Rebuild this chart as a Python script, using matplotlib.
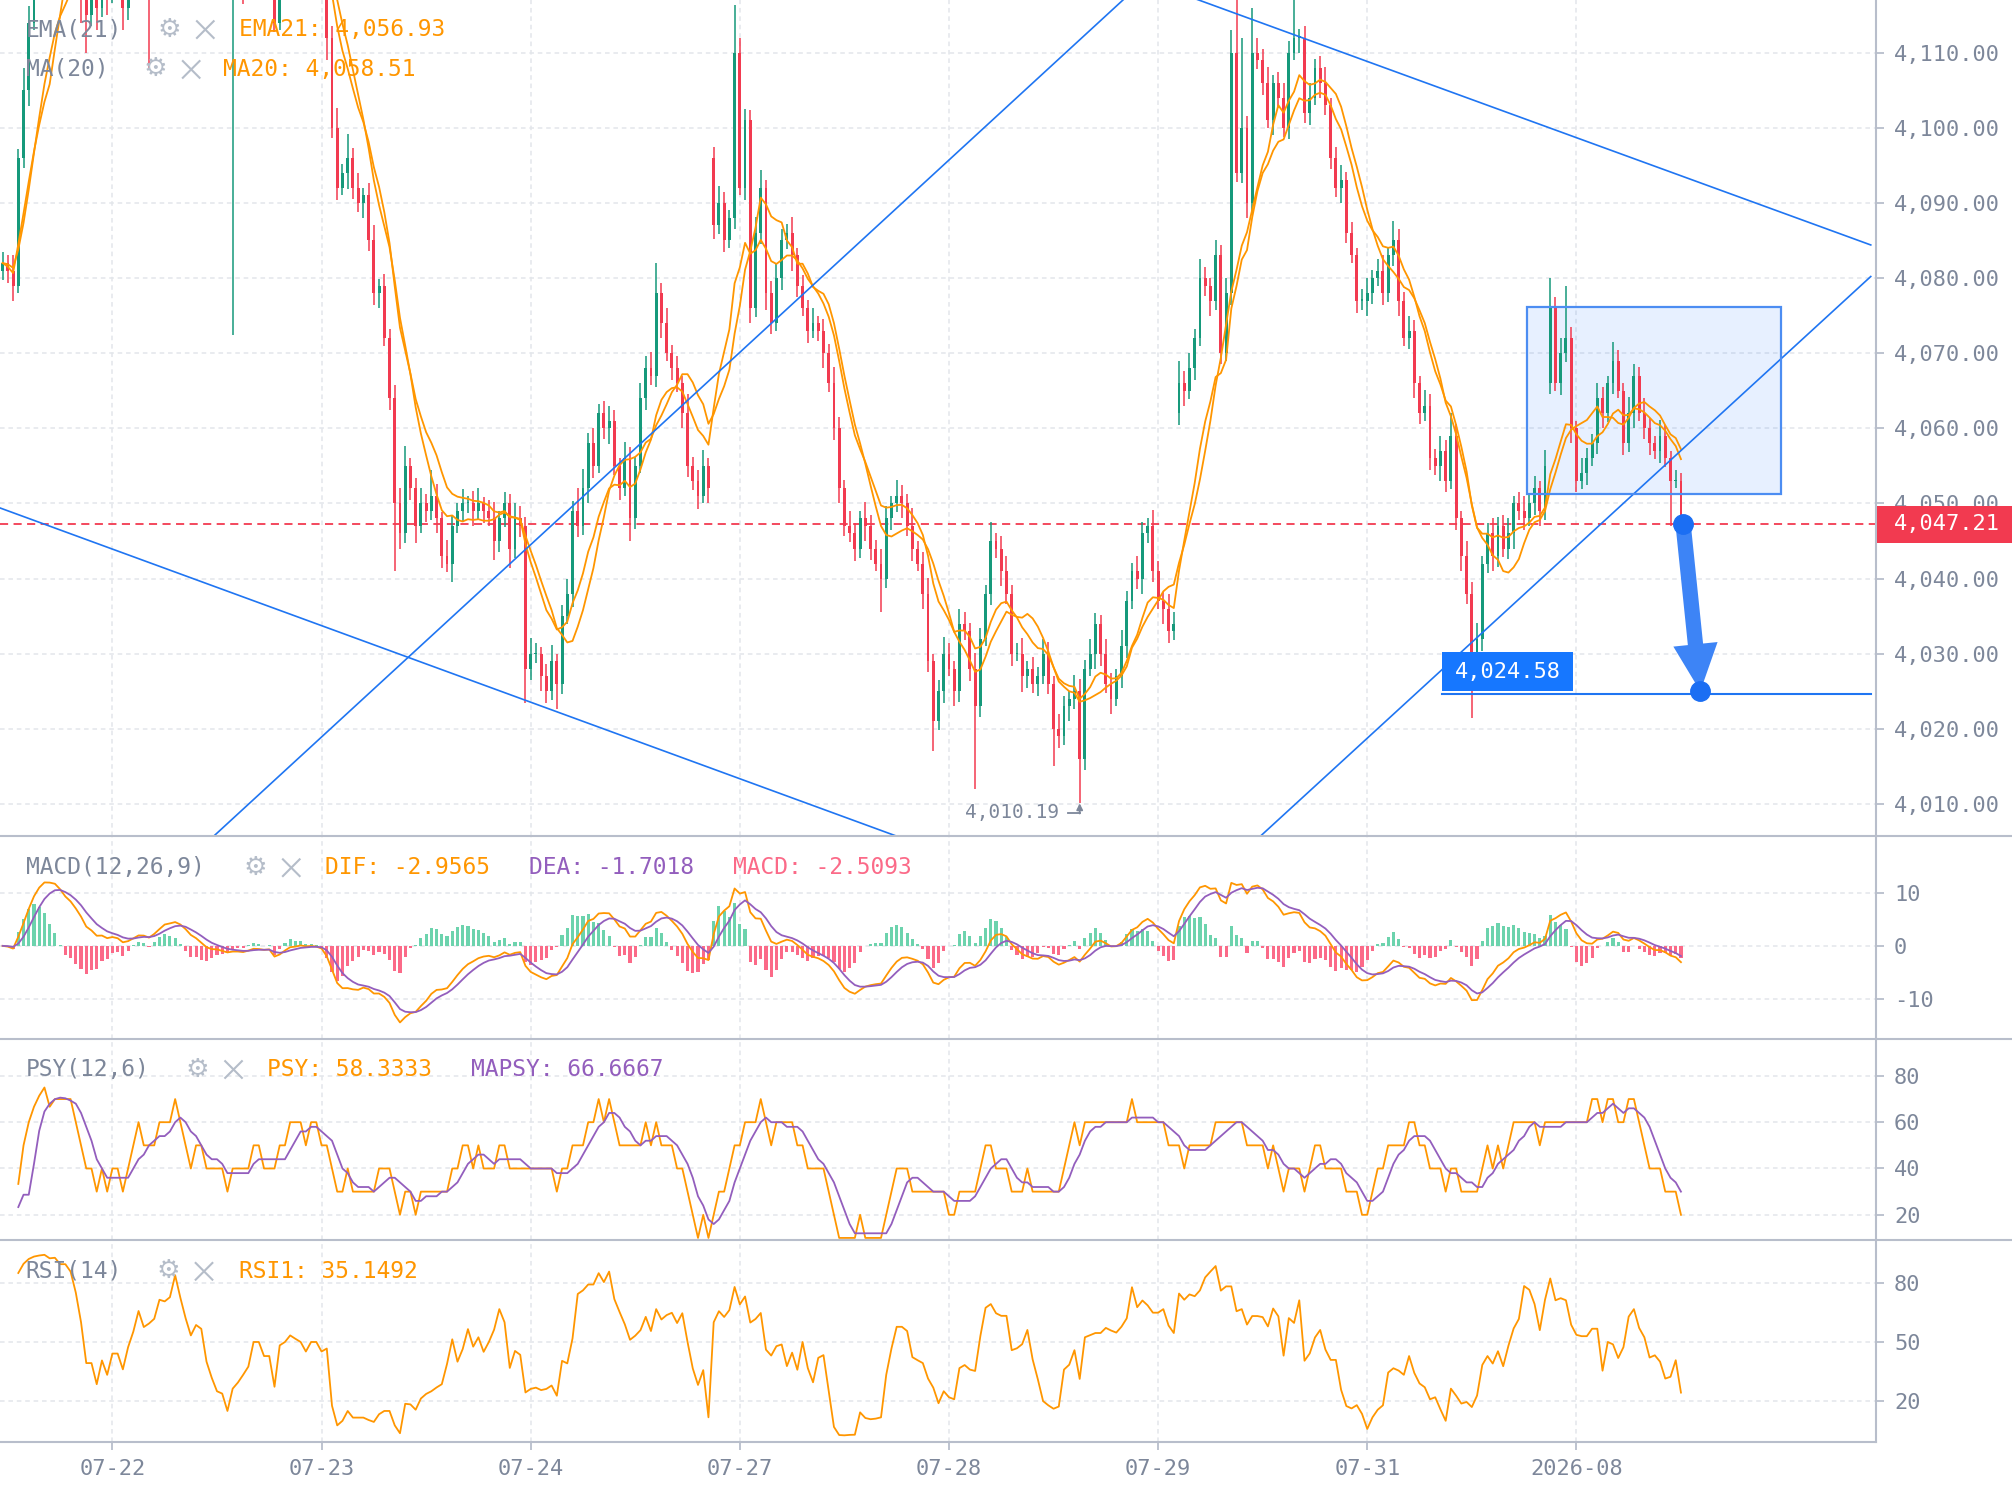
import numpy as np
import matplotlib.pyplot as plt
from matplotlib.lines import Line2D
from matplotlib.patches import Rectangle, FancyArrowPatch
from matplotlib.transforms import blended_transform_factory

plt.rcParams['font.family'] = ['DejaVu Sans Mono', 'DejaVu Sans']

# 30-min bars (anything above ~4117 runs off the top)
closes = [
    4082, 4081, 4079, 4096, 4105, 4114, 4121, 4125, 4128, 4127,
    4129, 4126, 4124, 4126, 4123, 4120, 4115, 4119, 4116, 4121,
    4118, 4122, 4120, 4116, 4121, 4124, 4126, 4124, 4122, 4129,
    4133, 4136, 4135, 4137, 4134, 4131, 4128, 4129, 4126, 4124,
    4125, 4126, 4124, 4123, 4125, 4124, 4123, 4125, 4126, 4124,
    4123, 4124, 4114, 4122, 4125, 4126, 4124, 4125, 4123, 4124,
    4123, 4121, 4112, 4100, 4092, 4094, 4096, 4092, 4090, 4091,
    4085, 4078, 4079, 4072, 4064, 4050, 4046, 4055, 4052, 4047,
    4050, 4049, 4051, 4048, 4043, 4042, 4047, 4049, 4050, 4050,
    4049, 4050, 4049, 4048, 4045, 4048, 4050, 4044, 4048, 4047,
    4028, 4030, 4030, 4027, 4025, 4029, 4026, 4035, 4038, 4049,
    4047, 4052, 4058, 4055, 4062, 4060, 4061, 4055, 4052, 4056,
    4048, 4055, 4064, 4068, 4067, 4078, 4074, 4070, 4068, 4066,
    4062, 4055, 4053, 4051, 4055, 4052, 4087, 4090, 4085, 4088,
    4110, 4092, 4101, 4076, 4086, 4092, 4078, 4074, 4080, 4085,
    4086, 4083, 4079, 4076, 4073, 4074, 4073, 4070, 4066, 4060,
    4052, 4047, 4046, 4044, 4048, 4047, 4044, 4042, 4040, 4048,
    4050, 4051, 4050, 4047, 4044, 4042, 4038, 4029, 4021, 4025,
    4030, 4028, 4025, 4034, 4033, 4028, 4023, 4032, 4038, 4045,
    4044, 4041, 4038, 4030, 4030, 4027, 4028, 4026, 4027, 4030,
    4026, 4020, 4019, 4023, 4024, 4025, 4016, 4028, 4030, 4034,
    4030, 4026, 4024, 4027, 4031, 4037, 4041, 4040, 4046, 4047,
    4041, 4037, 4036, 4033, 4034, 4066, 4065, 4068, 4072, 4080,
    4079, 4077, 4083, 4070, 4078, 4110, 4094, 4100, 4090, 4110,
    4109, 4106, 4101, 4106, 4104, 4100, 4110, 4112, 4112, 4102,
    4104, 4108, 4106, 4103, 4096, 4092, 4093, 4086, 4083, 4077,
    4077, 4078, 4080, 4081, 4078, 4083, 4085, 4077, 4072, 4073,
    4066, 4062, 4063, 4056, 4055, 4057, 4053, 4059, 4048, 4043,
    4038, 4027, 4032, 4042, 4046, 4043, 4047, 4044, 4046, 4050,
    4049, 4048, 4050, 4052, 4049, 4055, 4076, 4066, 4070, 4072,
    4060, 4053, 4054, 4056, 4058, 4064, 4062, 4066, 4069, 4065,
    4058, 4062, 4067, 4062, 4060, 4058, 4057, 4059, 4056, 4053,
    4053, 4047.21,
]

# upper / lower shadow length beyond the body
wick_up = [
    1.5, 1.0, 2.0, 1.2, 3.0, 2.2, 1.0, 2.5, 1.4, 2.0,
    1.1, 1.6, 2.3, 0.8, 1.5, 1.2, 2.1, 1.4, 0.9, 2.2,
    1.3, 1.0, 2.4, 1.6, 0.8, 2.0, 1.7, 1.1, 2.3, 1.0,
    1.4, 2.2, 0.9, 1.5, 2.1, 1.0, 1.8, 1.2, 2.0, 1.6,
    1.0, 2.3, 1.4, 0.8, 2.0, 1.5, 1.1, 2.4, 1.0, 1.7,
    2.2, 1.0, 1.6, 2.5, 1.2, 1.4, 0.9, 2.0, 1.5, 1.1,
    2.1, 1.4, 1.0, 1.5, 2.6, 1.2, 3.2, 1.3, 2.0, 1.0,
    1.6, 2.1, 0.9, 1.5, 1.2, 1.8, 2.0, 2.7, 1.1, 1.4,
    2.0, 1.2, 3.4, 1.6, 0.8, 2.1, 1.5, 1.1, 1.9, 1.0,
    1.6, 2.0, 0.9, 1.4, 2.2, 1.0, 1.5, 1.3, 2.1, 1.6,
    1.2, 2.1, 1.4, 0.9, 1.6, 2.2, 1.0, 1.5, 2.0, 1.3,
    3.0, 2.6, 1.4, 2.1, 1.2, 1.6, 2.0, 1.4, 1.1, 2.2,
    1.5, 1.2, 2.0, 1.6, 2.1, 4.0, 1.4, 2.0, 1.1, 1.6,
    1.0, 2.5, 1.2, 1.5, 2.1, 1.0, 1.4, 2.2, 1.5, 1.0,
    6.3, 2.0, 1.5, 1.3, 2.1, 2.4, 1.0, 1.6, 2.0, 1.5,
    1.2, 2.1, 1.0, 1.4, 1.1, 2.0, 1.0, 1.6, 1.2, 2.1,
    1.5, 1.1, 2.0, 1.4, 1.0, 2.2, 1.5, 1.2, 2.0, 1.6,
    1.0, 2.1, 1.4, 1.2, 2.4, 1.0, 1.6, 2.1, 1.0, 1.5,
    2.2, 1.4, 1.0, 2.0, 1.6, 1.1, 2.1, 1.4, 1.2, 2.5,
    1.0, 1.6, 2.0, 1.2, 1.4, 2.1, 1.0, 1.5, 1.2, 2.0,
    1.5, 1.1, 2.0, 1.4, 1.0, 2.2, 1.6, 1.1, 2.0, 1.4,
    1.2, 2.0, 1.5, 1.0, 2.1, 1.4, 1.1, 2.0, 1.5, 1.0,
    2.1, 1.4, 1.2, 2.0, 1.5, 3.0, 1.6, 2.0, 1.2, 2.5,
    1.5, 1.0, 2.1, 1.4, 2.0, 3.0, 7.5, 12.0, 1.5, 6.0,
    2.0, 1.5, 2.1, 1.0, 1.4, 2.0, 1.5, 6.0, 1.1, 1.6,
    2.0, 1.2, 1.5, 2.1, 1.0, 1.4, 2.0, 1.1, 1.5, 1.0,
    1.6, 2.0, 1.1, 1.5, 2.1, 1.0, 2.6, 1.5, 1.2, 2.0,
    1.4, 1.0, 2.1, 1.5, 1.2, 2.0, 1.4, 3.0, 1.6, 1.0,
    2.0, 1.5, 2.1, 1.0, 1.4, 2.0, 1.2, 1.5, 2.1, 1.0,
    1.5, 2.0, 1.1, 1.6, 1.0, 2.1, 4.0, 1.5, 2.0, 7.0,
    1.5, 1.0, 2.1, 1.4, 1.2, 2.0, 1.5, 1.0, 2.5, 1.4,
    1.0, 2.1, 1.5, 1.2, 2.0, 1.4, 1.0, 2.1, 1.5, 1.0,
    1.5, 1.0,
]
wick_dn = [
    1.2, 1.6, 2.0, 1.0, 1.4, 2.1, 1.0, 1.5, 2.2, 1.1,
    1.6, 1.0, 2.0, 1.4, 1.2, 6.0, 5.0, 1.5, 3.0, 1.2,
    3.0, 1.4, 1.1, 3.0, 1.6, 1.0, 2.0, 1.5, 14.0, 1.5,
    2.0, 1.1, 1.6, 1.2, 2.1, 1.0, 1.5, 1.8, 1.2, 2.0,
    1.4, 1.0, 2.2, 1.5, 50.6, 1.2, 6.5, 1.6, 1.0, 2.0,
    1.3, 1.5, 1.3, 1.0, 1.2, 1.0, 2.0, 1.4, 1.1, 1.6,
    1.0, 2.1, 3.0, 1.4, 1.6, 1.0, 2.2, 1.5, 1.2, 2.0,
    1.4, 1.6, 2.0, 1.1, 1.5, 9.0, 2.0, 1.2, 1.6, 2.2,
    1.0, 1.5, 1.2, 2.0, 1.6, 1.1, 2.4, 1.0, 1.5, 1.3,
    2.0, 1.2, 1.6, 1.0, 2.5, 1.4, 1.1, 2.6, 1.2, 1.5,
    4.6, 1.5, 1.2, 2.0, 1.6, 1.2, 3.3, 1.4, 1.0, 1.8,
    1.5, 1.2, 2.0, 1.6, 1.0, 1.4, 2.1, 1.2, 1.6, 1.0,
    3.0, 1.4, 1.0, 1.6, 1.2, 1.5, 2.0, 1.1, 1.6, 1.2,
    2.0, 1.5, 1.2, 1.8, 1.0, 2.0, 1.8, 1.2, 1.5, 1.0,
    1.5, 1.0, 1.6, 2.0, 1.2, 1.5, 2.2, 1.4, 1.0, 1.6,
    1.2, 2.0, 1.5, 1.1, 1.6, 1.0, 1.4, 2.0, 1.2, 1.6,
    2.0, 1.4, 1.1, 1.6, 1.2, 2.0, 1.5, 1.0, 4.5, 1.2,
    1.5, 1.1, 2.0, 1.4, 1.6, 1.0, 2.1, 1.4, 4.0, 1.2,
    1.5, 1.0, 2.0, 1.4, 1.2, 1.6, 11.0, 1.4, 1.0, 1.5,
    1.2, 2.0, 1.4, 1.6, 1.0, 2.1, 1.5, 1.2, 1.6, 1.0,
    1.4, 5.0, 1.6, 1.2, 2.0, 1.4, 5.81, 1.5, 1.0, 2.0,
    1.6, 1.2, 2.0, 1.0, 1.5, 1.6, 1.1, 1.4, 2.0, 1.2,
    1.5, 1.0, 2.0, 1.6, 1.2, 1.5, 2.0, 1.1, 1.6, 1.0,
    1.4, 2.0, 1.2, 1.5, 1.0, 1.6, 1.2, 1.4, 2.0, 1.5,
    1.2, 1.6, 1.0, 2.0, 1.4, 1.2, 1.5, 1.0, 2.1, 1.4,
    1.6, 1.0, 2.0, 1.3, 1.5, 1.2, 2.0, 1.4, 1.0, 1.6,
    1.2, 2.0, 1.5, 1.0, 1.6, 1.2, 1.4, 2.0, 1.1, 1.5,
    2.0, 1.4, 1.0, 1.6, 1.2, 2.0, 1.5, 1.1, 1.6, 2.0,
    1.4, 5.5, 1.0, 1.6, 1.2, 2.0, 1.5, 1.1, 1.4, 2.0,
    1.2, 1.6, 1.0, 1.5, 2.0, 1.2, 1.4, 1.0, 1.6, 1.2,
    2.0, 1.5, 1.1, 1.6, 1.0, 1.4, 2.0, 1.2, 1.5, 1.0,
    1.6, 1.2, 2.0, 1.0, 1.4, 1.5, 1.1, 1.6, 1.2, 6.0,
    1.0, 0.5,
]
# session gaps: bars whose open is not the previous close
gap_opens = {136: 4096, 225: 4062, 296: 4066}

day_pos = [21, 61, 101, 141, 181, 221, 261, 301]
day_labels = ['07-22', '07-23', '07-24', '07-27', '07-28', '07-29', '07-31', '2026-08']
price_ticks = [4010, 4020, 4030, 4040, 4050, 4060, 4070, 4080, 4090, 4100, 4110]

last_price = 4047.21
target_price = 4024.58

# readouts shown in the indicator headers
ema_value, ma_value = 4056.93, 4058.51
dif_value, dea_value, macd_value = -2.9565, -1.7018, -2.5093
psy_value, mapsy_value = 58.3333, 66.6667
rsi_value = 35.1492

# drawing tools, (bar index, price)
trend_lines = [
    ((-0.5, 4049.4), (175.0, 4004.7)),
    ((38.0, 4004.2), (216.0, 4118.1)),
    ((226.0, 4117.7), (357.3, 4084.4)),
    ((238.5, 4004.4), (357.3, 4080.2)),
]
box_x, box_y = (291.5, 340.1), (4051.3, 4076.1)
arrow_from, arrow_to = (321.4, 4047.3), (324.7, 4025.0)

UP, DOWN = '#16997B', '#F23A50'
HIST_UP, HIST_DN = '#6CD3AD', '#FB6A88'
ORANGE, PURPLE = '#FF9600', '#935EBD'
BLUE = '#1F75F2'
AXIS = '#B8BECB'
GRID = '#E3E6EB'
TEXT = '#7D879A'
ICON = '#B5BDC9'

c = np.array(closes, dtype=float)
o = np.r_[c[0] - 1.0, c[:-1]]
for k, v in gap_opens.items():
    o[k] = v
highs = np.maximum(o, c) + np.array(wick_up)
lows = np.minimum(o, c) - np.array(wick_dn)
x = np.arange(len(c))


def ema(v, n):
    a = 2.0 / (n + 1)
    out = np.empty_like(v)
    out[0] = v[0]
    for k in range(1, len(v)):
        out[k] = a * v[k] + (1 - a) * out[k - 1]
    return out


def sma(v, n):
    return np.array([v[max(0, k - n + 1):k + 1].mean() for k in range(len(v))])


# periods shortened: each bar here stands for two 15-min bars
ema_line = ema(c, 11)
ma_line = sma(c, 10)
dif = ema(c, 6) - ema(c, 13)
dea = ema(dif, 5)
hist = 2 * (dif - dea)

chg = np.r_[0.0, np.diff(c)]
psy = np.array([100.0 * (chg[max(1, k - 9):k + 1] > 0).mean() if k > 0 else 60.0
                for k in range(len(c))])
mapsy = sma(psy, 5)
rsi = []
for k in range(len(c)):
    w = chg[max(1, k - 9):k + 1]
    tot = np.abs(w).sum()
    rsi.append(100.0 * w[w > 0].sum() / tot if tot > 0 else 50.0)
rsi = np.array(rsi)
start = 3  # the first bars have too little history for PSY / RSI

W, H = 1568.0, 1156.0
fig = plt.figure(figsize=(20.12, 14.86), dpi=100)


def panel(top, bottom):
    return fig.add_axes([0, 1 - bottom / H, 1462 / W, (bottom - top) / H])


ax = panel(0, 650)
ax_macd = panel(650, 808)
ax_psy = panel(808, 965)
ax_rsi = panel(965, 1122)


def style(a, ylim, ticks, fmt):
    a.set_xlim(-0.5, 358.3)
    a.set_ylim(*ylim)
    for s in ('top', 'left', 'bottom'):
        a.spines[s].set_visible(False)
    a.spines['right'].set_color(AXIS)
    a.spines['right'].set_linewidth(1.5)
    a.yaxis.tick_right()
    a.set_yticks(ticks)
    a.set_yticklabels([fmt(t) for t in ticks])
    a.tick_params(axis='y', color=AXIS, labelcolor=TEXT, length=6, width=1.3,
                  pad=7, labelsize=15.8)
    a.set_xticks(day_pos)
    a.tick_params(axis='x', bottom=False, labelbottom=False)
    a.grid(True, color=GRID, linestyle=(0, (3, 2.5)), lw=1.1)
    a.set_axisbelow(True)


style(ax, (4005.8, 4117.0), price_ticks, lambda t: f'{t:,.2f}')
style(ax_macd, (-17.5, 20.8), [-10, 0, 10], lambda t: f'{t}')
style(ax_psy, (8.9, 96.1), [20, 40, 60, 80], lambda t: f'{t}')
style(ax_rsi, (-0.9, 101.5), [20, 50, 80], lambda t: f'{t}')

ax_rsi.spines['bottom'].set_visible(True)
ax_rsi.spines['bottom'].set_color(AXIS)
ax_rsi.spines['bottom'].set_linewidth(1.5)
ax_rsi.set_xticklabels(day_labels)
ax_rsi.tick_params(axis='x', bottom=True, labelbottom=True, color=AXIS, labelcolor=TEXT,
                   length=6, width=1.3, pad=6, labelsize=15.8)

# candles
col = np.where(c >= o, UP, DOWN)
ax.vlines(x, lows, highs, colors=col, lw=1.1, zorder=3)
ax.bar(x, np.maximum(np.abs(c - o), 0.15), bottom=np.minimum(o, c), width=0.55,
       color=col, lw=0, zorder=3)
ax.plot(x, ema_line, color=ORANGE, lw=1.3, zorder=4)
ax.plot(x, ma_line, color=ORANGE, lw=1.3, zorder=4)

ax.axhline(last_price, color=DOWN, lw=1.3, ls=(0, (4.5, 3)), zorder=2)

for (x0, y0), (x1, y1) in trend_lines:
    ax.plot([x0, x1], [y0, y1], color=BLUE, lw=1.2, zorder=5)

ax.add_patch(Rectangle((box_x[0], box_y[0]), box_x[1] - box_x[0], box_y[1] - box_y[0],
                       facecolor='#2979FF', alpha=0.11, lw=0, zorder=1))
ax.add_patch(Rectangle((box_x[0], box_y[0]), box_x[1] - box_x[0], box_y[1] - box_y[0],
                       fill=False, edgecolor='#4C8DF2', lw=1.6, zorder=5))

# target level and its tag
ax.plot([275.3, 357.3], [target_price, target_price], color=BLUE, lw=1.5, zorder=5)
ax.add_patch(Rectangle((275.3, target_price + 0.4), 25.1, 5.3, facecolor='#1677FF',
                       lw=0, zorder=6))
ax.text(287.85, target_price + 3.05, f'{target_price:,.2f}', color='white', fontsize=15.8,
        ha='center', va='center', zorder=7)

# projected move arrow
ax.add_patch(FancyArrowPatch(arrow_from, arrow_to,
                             arrowstyle='simple,head_length=3.4,head_width=3.2,tail_width=1.1',
                             mutation_scale=10, color='#3D84F6', lw=0, shrinkA=0, shrinkB=0,
                             zorder=7))
ax.plot(*zip(arrow_from, arrow_to), ls='none', marker='o', ms=14, color='#1B6EF3', zorder=8)

# lowest price marker
i_low = int(np.argmin(lows))
low = lows[i_low]
ax.text(i_low - 3.9, low - 1.3, f'{low:,.2f}', ha='right', va='center', color=TEXT,
        fontsize=14)
ax.plot([i_low - 2.2, i_low], [low - 1.4, low - 1.4], color=TEXT, lw=1.3, zorder=5)
ax.annotate('', xy=(i_low, low - 0.1), xytext=(i_low, low - 1.45),
            arrowprops=dict(arrowstyle='-|>', color=TEXT, lw=1.3, mutation_scale=9,
                            shrinkA=0, shrinkB=0))

# last price tag on the axis
tr = blended_transform_factory(fig.transFigure, ax.transData)
fig.add_artist(Rectangle((1463 / W, last_price - 2.45), 105 / W, 4.9, transform=tr,
                         facecolor=DOWN, lw=0, zorder=5))
fig.text(1476 / W, last_price, f'{last_price:,.2f}', transform=tr, color='white',
         fontsize=15.8, va='center', zorder=6)

# MACD
ax_macd.bar(x, hist, width=0.6, color=np.where(hist >= 0, HIST_UP, HIST_DN), lw=0, zorder=2)
ax_macd.plot(x, dif, color=ORANGE, lw=1.3, zorder=3)
ax_macd.plot(x, dea, color=PURPLE, lw=1.3, zorder=3)

# PSY / RSI
ax_psy.plot(x[start:], psy[start:], color=ORANGE, lw=1.3, zorder=3)
ax_psy.plot(x[start:], mapsy[start:], color=PURPLE, lw=1.3, zorder=3)
ax_rsi.plot(x[start:], rsi[start:], color=ORANGE, lw=1.3, zorder=3)

# panel separators
for yy in (650, 808, 965):
    fig.add_artist(Line2D([0, 1], [1 - yy / H, 1 - yy / H], transform=fig.transFigure,
                          color=AXIS, lw=1.5))


def header(y, name, gear_x, parts):
    fy = 1 - y / H
    fig.text(20 / W, fy, name, color=TEXT, fontsize=16.5, va='center')
    fig.text(gear_x / W, fy, '⚙', color=ICON, fontsize=19, ha='center', va='center',
             family='DejaVu Sans')
    cx, d = gear_x + 28, 6.5
    for sgn in (-1, 1):
        fig.add_artist(Line2D([(cx - d) / W, (cx + d) / W],
                              [1 - (y - sgn * d) / H, 1 - (y + sgn * d) / H],
                              transform=fig.transFigure, color=ICON, lw=1.5))
    for x0, s, colr in parts:
        fig.text(x0 / W, fy, s, color=colr, fontsize=16.5, va='center')


header(23, 'EMA(21)', 132, [(186, f'EMA21: {ema_value:,.2f}', ORANGE)])
header(54, 'MA(20)', 121, [(174, f'MA20: {ma_value:,.2f}', ORANGE)])
header(675, 'MACD(12,26,9)', 199, [(253, f'DIF: {dif_value:.4f}', ORANGE),
                                   (412, f'DEA: {dea_value:.4f}', PURPLE),
                                   (571, f'MACD: {macd_value:.4f}', HIST_DN)])
header(832, 'PSY(12,6)', 154, [(208, f'PSY: {psy_value:.4f}', ORANGE),
                               (367, f'MAPSY: {mapsy_value:.4f}', PURPLE)])
header(989, 'RSI(14)', 131, [(186, f'RSI1: {rsi_value:.4f}', ORANGE)])

fig.savefig('out.png', dpi=100, facecolor='white')
